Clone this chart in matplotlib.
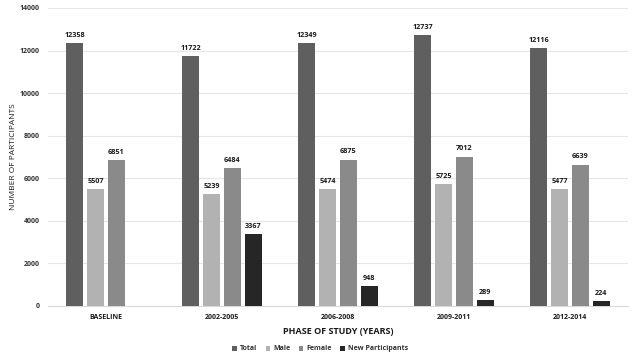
import matplotlib
matplotlib.use("Agg")
import matplotlib.pyplot as plt
import numpy as np

plt.rcParams['font.family'] = ['Open Sans', 'DejaVu Sans']

categories = ["BASELINE", "2002-2005", "2006-2008", "2009-2011", "2012-2014"]
series_names = ["Total", "Male", "Female", "New Participants"]
total = [12358, 11722, 12349, 12737, 12116]
male = [5507, 5239, 5474, 5725, 5477]
female = [6851, 6484, 6875, 7012, 6639]
new_part = [None, 3367, 948, 289, 224]
yticks = [0, 2000, 4000, 6000, 8000, 10000, 12000, 14000]

colors = ["#5f5f5f", "#b2b2b2", "#8a8a8a", "#262626"]
all_series = [total, male, female, new_part]

fig = plt.figure(figsize=(6.4, 3.6), dpi=100)
ax = fig.add_axes([48/640, 1-306/360, 580/640, 298/360])

x = np.arange(len(categories))
step = 0.18
width = 0.145
offsets = [-1.5*step, -0.5*step, 0.5*step, 1.5*step]
for s, (vals, name, c, off) in enumerate(zip(all_series, series_names, colors, offsets)):
    xs = [xi + off for xi, v in zip(x, vals) if v is not None]
    vs = [v for v in vals if v is not None]
    bars = ax.bar(xs, vs, width=width, color=c, label=name, zorder=3)
    for b, v in zip(bars, vs):
        ax.text(b.get_x() + b.get_width()/2, v + 200, str(v), ha='center', va='bottom',
                fontsize=5.2, fontweight='bold', color='#1a1a1a')

ax.set_xlim(-0.5, len(categories) - 0.5)
ax.set_ylim(0, 14000)
ax.set_yticks(yticks)
ax.set_yticklabels([str(t) for t in yticks], fontsize=5, fontweight='bold', color='#333333')
ax.set_xticks(x)
ax.set_xticklabels(categories, fontsize=5, fontweight='bold', color='#1a1a1a')
ax.tick_params(axis='both', length=0, pad=6)
ax.grid(axis='y', color='#e6e6e6', linewidth=0.8, zorder=0)
for sp in ['top', 'right', 'left']:
    ax.spines[sp].set_visible(False)
ax.spines['bottom'].set_color('#d9d9d9')

ax.set_xlabel("PHASE OF STUDY (YEARS)", fontsize=6.5, fontweight='bold', color='#1a1a1a', labelpad=4)
ax.set_ylabel("NUMBER OF PARTICIPANTS", fontsize=6, color='#1a1a1a', labelpad=2)

leg = fig.legend(loc='center', bbox_to_anchor=(0.5, 1-349/360), ncol=4, frameon=False,
                 fontsize=5, handlelength=0.7, handleheight=0.7, columnspacing=1.2, handletextpad=0.4)
for t in leg.get_texts():
    t.set_fontweight('bold')
    t.set_color('#333333')

fig.savefig("out.png", dpi=100)
